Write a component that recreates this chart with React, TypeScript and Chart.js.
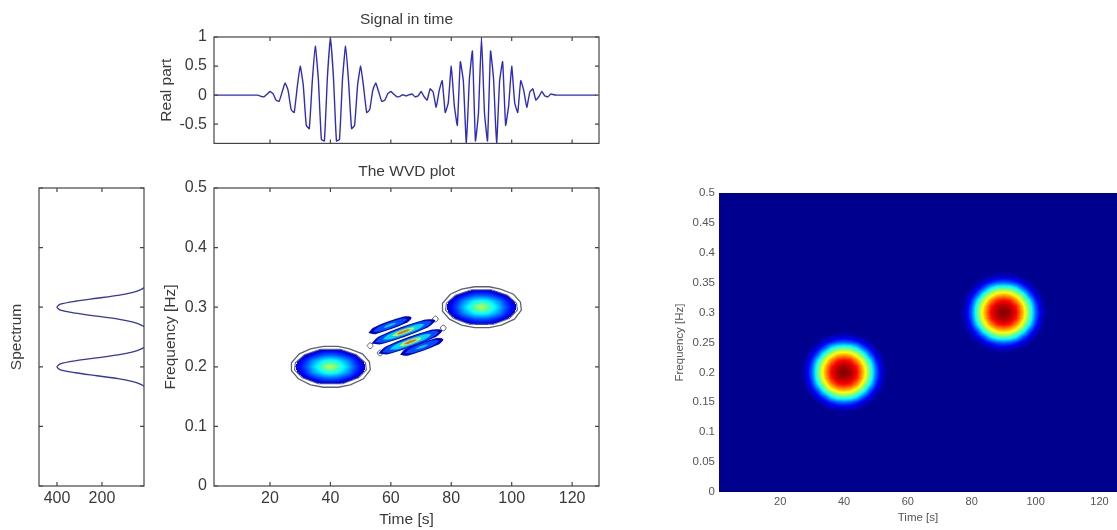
import React, { useEffect, useRef } from "react";
import { Chart, registerables } from "chart.js";

Chart.register(...registerables);

// ---------- values ----------
const signalTimes = [
  1, 2, 3, 4, 5, 6, 7, 8, 9, 10, 11, 12, 13, 14, 15, 16, 17, 18, 19, 20, 21, 22, 23, 24, 25, 26, 27, 28, 29, 30, 31, 32,
  33, 34, 35, 36, 37, 38, 39, 40, 41, 42, 43, 44, 45, 46, 47, 48, 49, 50, 51, 52, 53, 54, 55, 56, 57, 58, 59, 60, 61, 62,
  63, 64, 65, 66, 67, 68, 69, 70, 71, 72, 73, 74, 75, 76, 77, 78, 79, 80, 81, 82, 83, 84, 85, 86, 87, 88, 89, 90, 91, 92,
  93, 94, 95, 96, 97, 98, 99, 100, 101, 102, 103, 104, 105, 106, 107, 108, 109, 110, 111, 112, 113, 114, 115, 116, 117,
  118, 119, 120, 121, 122, 123, 124, 125, 126, 127, 128,
];
const signalReal = [
  0, 0, 0, 0, 0, 0, 0, 0, 0, 0, 0, 0, 0, 0, 0, 0, -0.02, -0.028, 0.015, 0.062, 0.025, -0.085, -0.108, 0.052, 0.21, 0.079,
  -0.25, -0.298, 0.133, 0.499, 0.176, -0.519, -0.576, 0.241, 0.841, 0.277, -0.76, -0.787, 0.307, 1.0, 0.307, -0.787, -0.76,
  0.277, 0.841, 0.241, -0.576, -0.519, 0.176, 0.499, 0.133, -0.298, -0.25, 0.079, 0.21, 0.052, -0.108, -0.085, 0.025,
  0.062, 0.015, -0.028, -0.02, 0.006, -0.013, 0.006, 0.02, -0.028, -0.015, 0.062, -0.025, -0.085, 0.108, 0.052, -0.21,
  0.079, 0.25, -0.298, -0.133, 0.499, -0.176, -0.519, 0.576, 0.241, -0.841, 0.277, 0.76, -0.787, -0.307, 1.0, -0.307,
  -0.787, 0.76, 0.277, -0.841, 0.241, 0.576, -0.519, -0.176, 0.499, -0.133, -0.298, 0.25, 0.079, -0.21, 0.052, 0.108,
  -0.085, -0.025, 0.062, -0.015, -0.028, 0.02, 0.006, 0, 0, 0, 0, 0, 0, 0, 0, 0, 0, 0, 0, 0, 0,
];

const spectrumFreqs = [
  0, 0.155, 0.16, 0.165, 0.17, 0.175, 0.18, 0.185, 0.19, 0.195, 0.2, 0.205, 0.21, 0.215, 0.22, 0.225, 0.23, 0.235, 0.24,
  0.245, 0.25, 0.255, 0.26, 0.265, 0.27, 0.275, 0.28, 0.285, 0.29, 0.295, 0.3, 0.305, 0.31, 0.315, 0.32, 0.325, 0.33, 0.335,
  0.34, 0.345, 0.5,
];
const spectrumValues = [
  0, 0, 1, 5, 25, 62, 128, 223, 319, 385, 400, 385, 319, 223, 128, 62, 25, 5, 1, 0, 0, 0, 1, 5, 25, 62, 128, 223, 319, 385,
  400, 385, 319, 223, 128, 62, 25, 5, 1, 0, 0,
];

const signalYTicks = [-0.5, 0, 0.5, 1];
const timeTicks = [20, 40, 60, 80, 100, 120];
const wvdFreqTicks = [0, 0.1, 0.2, 0.3, 0.4, 0.5];
const spectrumTicks = [200, 400];
const imageFreqTicks = [0, 0.05, 0.1, 0.15, 0.2, 0.25, 0.3, 0.35, 0.4, 0.45, 0.5];

// left WVD: smooth blobs
const blobTimesA = [26, 28, 30, 32, 34, 36, 38, 40, 42, 44, 46, 48, 50, 52, 54];
const blobTimesB = [76, 78, 80, 82, 84, 86, 88, 90, 92, 94, 96, 98, 100, 102, 104];
const wvdFreqsA = [0.16, 0.17, 0.18, 0.19, 0.2, 0.21, 0.22, 0.23, 0.24];
const wvdFreqsB = [0.26, 0.27, 0.28, 0.29, 0.3, 0.31, 0.32, 0.33, 0.34];
const wvdBlob = [
  [0, 0, 0, 0, 0, 0, 0, 0, 0, 0, 0, 0, 0, 0, 0],
  [0, 0, 0, 0.03, 0.05, 0.065, 0.08, 0.08, 0.08, 0.065, 0.05, 0.03, 0, 0, 0],
  [0, 0.03, 0.06, 0.095, 0.13, 0.17, 0.2, 0.21, 0.2, 0.17, 0.13, 0.095, 0.06, 0.03, 0],
  [0.03, 0.065, 0.11, 0.17, 0.26, 0.32, 0.38, 0.4, 0.38, 0.32, 0.26, 0.17, 0.11, 0.065, 0.03],
  [0.03, 0.08, 0.13, 0.21, 0.31, 0.4, 0.5, 0.58, 0.5, 0.4, 0.31, 0.21, 0.13, 0.08, 0.03],
  [0.03, 0.065, 0.11, 0.17, 0.26, 0.32, 0.38, 0.4, 0.38, 0.32, 0.26, 0.17, 0.11, 0.065, 0.03],
  [0, 0.03, 0.06, 0.095, 0.13, 0.17, 0.2, 0.21, 0.2, 0.17, 0.13, 0.095, 0.06, 0.03, 0],
  [0, 0, 0, 0.03, 0.05, 0.065, 0.08, 0.08, 0.08, 0.065, 0.05, 0.03, 0, 0, 0],
  [0, 0, 0, 0, 0, 0, 0, 0, 0, 0, 0, 0, 0, 0, 0],
];

// right image: two round peaks
const imageFreqsA = [0.13, 0.14, 0.15, 0.16, 0.17, 0.18, 0.19, 0.2, 0.21, 0.22, 0.23, 0.24, 0.25, 0.26, 0.27];
const imageFreqsB = [0.23, 0.24, 0.25, 0.26, 0.27, 0.28, 0.29, 0.3, 0.31, 0.32, 0.33, 0.34, 0.35, 0.36, 0.37];
const imageBlob = [
  [0, 0, 0, 0, 0, 0, 0, 0.01, 0, 0, 0, 0, 0, 0, 0],
  [0, 0, 0, 0, 0.02, 0.04, 0.06, 0.07, 0.06, 0.04, 0.02, 0, 0, 0, 0],
  [0, 0, 0.01, 0.03, 0.09, 0.16, 0.21, 0.23, 0.21, 0.16, 0.09, 0.03, 0.01, 0, 0],
  [0, 0, 0.03, 0.12, 0.23, 0.38, 0.47, 0.49, 0.47, 0.38, 0.23, 0.12, 0.03, 0, 0],
  [0, 0.02, 0.09, 0.23, 0.44, 0.58, 0.67, 0.7, 0.67, 0.58, 0.44, 0.23, 0.09, 0.02, 0],
  [0, 0.04, 0.16, 0.38, 0.58, 0.74, 0.85, 0.88, 0.85, 0.74, 0.58, 0.38, 0.16, 0.04, 0],
  [0, 0.06, 0.21, 0.47, 0.67, 0.85, 0.94, 0.97, 0.94, 0.85, 0.67, 0.47, 0.21, 0.06, 0],
  [0.01, 0.07, 0.23, 0.49, 0.7, 0.88, 0.97, 1.0, 0.97, 0.88, 0.7, 0.49, 0.23, 0.07, 0.01],
  [0, 0.06, 0.21, 0.47, 0.67, 0.85, 0.94, 0.97, 0.94, 0.85, 0.67, 0.47, 0.21, 0.06, 0],
  [0, 0.04, 0.16, 0.38, 0.58, 0.74, 0.85, 0.88, 0.85, 0.74, 0.58, 0.38, 0.16, 0.04, 0],
  [0, 0.02, 0.09, 0.23, 0.44, 0.58, 0.67, 0.7, 0.67, 0.58, 0.44, 0.23, 0.09, 0.02, 0],
  [0, 0, 0.03, 0.12, 0.23, 0.38, 0.47, 0.49, 0.47, 0.38, 0.23, 0.12, 0.03, 0, 0],
  [0, 0, 0.01, 0.03, 0.09, 0.16, 0.21, 0.23, 0.21, 0.16, 0.09, 0.03, 0.01, 0, 0],
  [0, 0, 0, 0, 0.02, 0.04, 0.06, 0.07, 0.06, 0.04, 0.02, 0, 0, 0, 0],
  [0, 0, 0, 0, 0, 0, 0, 0.01, 0, 0, 0, 0, 0, 0, 0],
];

// contour outlines round the two auto-terms (time, frequency)
const contourOuterA = [[37.7,0.2343],[42.6,0.2343],[46.3,0.2302],[50.6,0.2218],[52.9,0.2084],[53.2,0.195],[50.9,0.1799],[46.6,0.1698],[42.6,0.1657],[37.7,0.1657],[33.4,0.1698],[29.4,0.1799],[27.1,0.1933],[27.1,0.2067],[29.7,0.2218],[33.4,0.2302],[37.7,0.2343]];
const contourInnerA = [[36.7,0.2293],[43.3,0.2293],[48.6,0.2201],[51.6,0.2067],[51.9,0.195],[49.3,0.1816],[44,0.1715],[36,0.1715],[30.7,0.1816],[28.1,0.195],[28.4,0.2067],[31.4,0.2201],[36.7,0.2293]];
const contourOuterB = [[87.7,0.3343],[92.6,0.3343],[96.3,0.3302],[100.6,0.3218],[102.9,0.3084],[103.2,0.295],[100.9,0.2799],[96.6,0.2698],[92.6,0.2657],[87.7,0.2657],[83.4,0.2698],[79.4,0.2799],[77.1,0.2933],[77.1,0.3067],[79.7,0.3218],[83.4,0.3302],[87.7,0.3343]];
const contourInnerB = [[86.7,0.3293],[93.3,0.3293],[98.6,0.3201],[101.6,0.3067],[101.9,0.295],[99.3,0.2816],[94,0.2715],[86,0.2715],[80.7,0.2816],[78.1,0.295],[78.4,0.3067],[81.4,0.3201],[86.7,0.3293]];

// interference stripes: nested filled contours (time, frequency)
const stripe1Level1 = [[52.55,0.2566],[54.33,0.2661],[64.29,0.2843],[66.85,0.2828],[65.07,0.2733],[55.11,0.2551]];
const stripe1Level2 = [[54.1,0.2594],[56,0.2673],[62.84,0.2799],[65.3,0.28],[63.4,0.2721],[56.56,0.2595]];
const stripe1Level3 = [[57.52,0.2657],[58.5,0.2693],[60.68,0.2733],[61.88,0.2737],[60.9,0.2701],[58.72,0.2661]];
const stripe4Level1 = [[63.05,0.2202],[64.83,0.2297],[74.79,0.2479],[77.35,0.2464],[75.57,0.2369],[65.61,0.2187]];
const stripe4Level2 = [[64.6,0.223],[66.5,0.2309],[73.34,0.2435],[75.8,0.2436],[73.9,0.2357],[67.06,0.2231]];
const stripe4Level3 = [[68.02,0.2293],[69,0.2329],[71.18,0.2369],[72.38,0.2373],[71.4,0.2337],[69.22,0.2297]];
const stripe2Level1 = [[53.53,0.2391],[56.17,0.2514],[71.09,0.2788],[74.67,0.2779],[72.03,0.2656],[57.11,0.2382]];
const stripe2Level2 = [[54.77,0.2414],[57.19,0.2518],[70.25,0.2758],[73.43,0.2756],[71.01,0.2652],[57.95,0.2412]];
const stripe2Level3 = [[57.26,0.246],[59.45,0.2547],[68.15,0.2707],[70.94,0.271],[68.75,0.2623],[60.05,0.2463]];
const stripe2Level4 = [[60.37,0.2517],[62.03,0.2579],[65.77,0.2647],[67.83,0.2653],[66.17,0.2591],[62.43,0.2523]];
const stripe2Level5 = [[61.92,0.2545],[62.89,0.2582],[65.07,0.2622],[66.28,0.2625],[65.31,0.2588],[63.13,0.2548]];
const stripe3Level1 = [[55.83,0.2223],[58.47,0.2346],[73.39,0.262],[76.97,0.2611],[74.33,0.2488],[59.41,0.2214]];
const stripe3Level2 = [[57.07,0.2246],[59.49,0.235],[72.55,0.259],[75.73,0.2588],[73.31,0.2484],[60.25,0.2244]];
const stripe3Level3 = [[59.56,0.2292],[61.75,0.2379],[70.45,0.2539],[73.24,0.2542],[71.05,0.2455],[62.35,0.2295]];
const stripe3Level4 = [[62.67,0.2349],[64.33,0.2411],[68.07,0.2479],[70.13,0.2485],[68.47,0.2423],[64.73,0.2355]];
const stripe3Level5 = [[64.22,0.2377],[65.19,0.2414],[67.37,0.2454],[68.58,0.2457],[67.61,0.242],[65.43,0.238]];
const tipLoops = [
  [[52.1,0.2354],[53.1,0.2404],[54.1,0.2354],[53.1,0.2304]],
  [[55.4,0.2232],[56.4,0.2282],[57.4,0.2232],[56.4,0.2182]],
  [[73.7,0.2802],[74.7,0.2852],[75.7,0.2802],[74.7,0.2752]],
  [[76.3,0.2651],[77.3,0.2701],[78.3,0.2651],[77.3,0.2601]],
];

// ---------- drawing helpers ----------
const INK = "#3a3a3a";
const SOFT_INK = "#555555";
const FRAME = "#454545";
const TRACE = "#2c2cc0";
const CONTOUR = "#5c6272";
const FONT = "'Liberation Sans', Arial, sans-serif";

const clamp = (v: number) => Math.max(0, Math.min(1, v));
const jet = (raw: number) => {
  const v = Math.max(raw, 0.0156);
  return [
    255 * clamp(1.5 - Math.abs(4 * v - 3)),
    255 * clamp(1.5 - Math.abs(4 * v - 2)),
    255 * clamp(1.5 - Math.abs(4 * v - 1)),
  ];
};

type Grid = { times: number[]; freqs: number[]; values: number[][] };

const cellsOf = (g: Grid) =>
  g.values.flatMap((row, j) => row.map((v, i) => ({ x: g.times[i], y: g.freqs[j], v })));

function heatPlugin(grids: Grid[], threshold: number, background: string | null) {
  return {
    id: "heat",
    beforeDatasetsDraw(chart: any) {
      const { ctx, chartArea: a, scales } = chart;
      const { x, y } = scales;
      ctx.save();
      if (background) {
        ctx.fillStyle = background;
        ctx.fillRect(a.left, a.top, a.right - a.left, a.bottom - a.top);
      }
      ctx.beginPath();
      ctx.rect(a.left, a.top, a.right - a.left, a.bottom - a.top);
      ctx.clip();
      for (const g of grids) {
        const x0 = Math.floor(x.getPixelForValue(g.times[0]));
        const x1 = Math.ceil(x.getPixelForValue(g.times[g.times.length - 1]));
        const y0 = Math.floor(y.getPixelForValue(g.freqs[g.freqs.length - 1]));
        const y1 = Math.ceil(y.getPixelForValue(g.freqs[0]));
        const w = x1 - x0;
        const h = y1 - y0;
        const off = document.createElement("canvas");
        off.width = w;
        off.height = h;
        const octx = off.getContext("2d")!;
        const img = octx.createImageData(w, h);
        const dt = g.times[1] - g.times[0];
        const df = g.freqs[1] - g.freqs[0];
        for (let py = 0; py < h; py++) {
          const fv = (y.getValueForPixel(y0 + py + 0.5) - g.freqs[0]) / df;
          for (let px = 0; px < w; px++) {
            const tv = (x.getValueForPixel(x0 + px + 0.5) - g.times[0]) / dt;
            if (tv < 0 || fv < 0 || tv > g.times.length - 1 || fv > g.freqs.length - 1) continue;
            const i = Math.min(Math.floor(tv), g.times.length - 2);
            const j = Math.min(Math.floor(fv), g.freqs.length - 2);
            const u = tv - i;
            const s = fv - j;
            const v =
              g.values[j][i] * (1 - u) * (1 - s) +
              g.values[j][i + 1] * u * (1 - s) +
              g.values[j + 1][i] * (1 - u) * s +
              g.values[j + 1][i + 1] * u * s;
            if (v < threshold) continue;
            const c = jet(v);
            const k = 4 * (py * w + px);
            img.data[k] = c[0];
            img.data[k + 1] = c[1];
            img.data[k + 2] = c[2];
            img.data[k + 3] = 255;
          }
        }
        octx.putImageData(img, 0, 0);
        ctx.drawImage(off, x0, y0);
      }
      ctx.restore();
    },
  };
}

const framePlugin = {
  id: "frame",
  afterDatasetsDraw(chart: any) {
    const { ctx, chartArea: a, scales } = chart;
    const { x, y } = scales;
    ctx.save();
    ctx.strokeStyle = FRAME;
    ctx.lineWidth = 1.2;
    ctx.strokeRect(a.left, a.top, a.right - a.left, a.bottom - a.top);
    ctx.beginPath();
    for (const t of x.ticks) {
      const p = x.getPixelForValue(t.value);
      ctx.moveTo(p, a.bottom);
      ctx.lineTo(p, a.bottom - 4);
      ctx.moveTo(p, a.top);
      ctx.lineTo(p, a.top + 4);
    }
    for (const t of y.ticks) {
      const p = y.getPixelForValue(t.value);
      ctx.moveTo(a.left, p);
      ctx.lineTo(a.left + 4, p);
      ctx.moveTo(a.right, p);
      ctx.lineTo(a.right - 4, p);
    }
    ctx.stroke();
    ctx.restore();
  },
};

const axisOptions = (o: {
  min: number;
  max: number;
  ticks: number[];
  fit: number;
  labels?: boolean;
  size?: number;
  padding?: number;
  title?: string;
  titleSize?: number;
  titlePad?: any;
  reverse?: boolean;
  horizontal: boolean;
  color?: string;
}) => ({
  type: "linear",
  min: o.min,
  max: o.max,
  reverse: !!o.reverse,
  grid: { display: false, drawTicks: false },
  border: { display: false },
  afterBuildTicks: (s: any) => {
    s.ticks = o.ticks.map((value) => ({ value }));
  },
  afterFit: (s: any) => {
    if (o.horizontal) s.height = o.fit;
    else s.width = o.fit;
  },
  ticks: {
    display: o.labels !== false,
    autoSkip: false,
    maxRotation: 0,
    padding: o.padding ?? 6,
    color: o.color ?? INK,
    font: { family: FONT, size: o.size ?? 16 },
    callback: (v: number) => String(v),
  },
  title: o.title
    ? {
        display: true,
        text: o.title,
        color: o.color ?? INK,
        font: { family: FONT, size: o.titleSize ?? 15.5 },
        padding: o.titlePad,
      }
    : { display: false },
});

const titleOptions = (text: string, top: number, bottom: number) => ({
  display: !!text,
  text,
  fullSize: false,
  color: INK,
  font: { family: FONT, size: 15.5, weight: "normal" },
  padding: { top, bottom },
});

const line = (points: number[][], color: string, width: number, fill: string | false, tension = 0.35) => ({
  data: points.map(([x, y]) => ({ x, y })),
  showLine: true,
  borderColor: color,
  borderWidth: width,
  backgroundColor: fill || "transparent",
  fill: fill ? "shape" : false,
  pointRadius: 0,
  tension,
});

const closed = (p: number[][]) => [...p, p[0]];
const zip = (a: number[], b: number[]) => a.map((v, i) => [v, b[i]]);

const PANELS = {
  signal: { left: 140, top: 0, width: 480, height: 160 },
  spectrum: { left: 0, top: 175, width: 160, height: 355 },
  wvd: { left: 140, top: 160, width: 480, height: 370 },
  image: { left: 660, top: 170, width: 457, height: 360 },
};

export default function App() {
  const signalRef = useRef<HTMLCanvasElement>(null);
  const spectrumRef = useRef<HTMLCanvasElement>(null);
  const wvdRef = useRef<HTMLCanvasElement>(null);
  const imageRef = useRef<HTMLCanvasElement>(null);

  useEffect(() => {
    const base = { responsive: false, animation: false, devicePixelRatio: 1, events: [] as string[] };
    const noLegend = { legend: { display: false }, tooltip: { enabled: false } };

    const signal = new Chart(signalRef.current!, {
      type: "scatter",
      data: { datasets: [line(zip(signalTimes, signalReal), TRACE, 1.4, false, 0.12)] as any },
      plugins: [framePlugin],
      options: {
        ...base,
        layout: { padding: { right: 21 } },
        plugins: { ...noLegend, title: titleOptions("Signal in time", 10, 8.4) },
        scales: {
          x: axisOptions({ min: 1.46, max: 128.9, ticks: timeTicks, fit: 15, labels: false, horizontal: true }),
          y: axisOptions({
            min: -0.83, max: 1, ticks: signalYTicks, fit: 74, padding: 7, horizontal: false,
            title: "Real part", titlePad: { top: 17, bottom: 0 },
          }),
        },
      } as any,
    });

    const spectrum = new Chart(spectrumRef.current!, {
      type: "scatter",
      data: { datasets: [line(zip(spectrumValues, spectrumFreqs), "#3434b0", 1.3, false, 0.25)] as any },
      plugins: [framePlugin],
      options: {
        ...base,
        layout: { padding: { top: 13, right: 16 } },
        plugins: noLegend,
        scales: {
          x: axisOptions({ min: 13, max: 480, reverse: true, ticks: spectrumTicks, fit: 44, padding: 3, horizontal: true }),
          y: axisOptions({
            min: 0, max: 0.5, ticks: wvdFreqTicks, fit: 39, labels: false, horizontal: false,
            title: "Spectrum", titlePad: { top: 7, bottom: 0 },
          }),
        },
      } as any,
    });

    const wvdGrids: Grid[] = [
      { times: blobTimesA, freqs: wvdFreqsA, values: wvdBlob },
      { times: blobTimesB, freqs: wvdFreqsB, values: wvdBlob },
    ];
    const navy = "#0000c8";
    const wvdLayers = [
      ...wvdGrids.map((g) => ({ data: cellsOf(g), pointRadius: 0, showLine: false })),
      line(contourOuterA, CONTOUR, 1.3, false, 0),
      line(contourInnerA, CONTOUR, 1.1, false, 0),
      line(contourOuterB, CONTOUR, 1.3, false, 0),
      line(contourInnerB, CONTOUR, 1.1, false, 0),
      ...tipLoops.map((p) => line(closed(p), CONTOUR, 1, "#ffffff")),
      line(closed(stripe1Level1), "transparent", 0, navy),
      line(closed(stripe1Level2), "transparent", 0, "#0050ff"),
      line(closed(stripe1Level3), "transparent", 0, "#20b8ff"),
      line(closed(stripe4Level1), "transparent", 0, navy),
      line(closed(stripe4Level2), "transparent", 0, "#0050ff"),
      line(closed(stripe4Level3), "transparent", 0, "#20b8ff"),
      line(closed(stripe2Level1), "transparent", 0, navy),
      line(closed(stripe2Level2), "transparent", 0, "#0050ff"),
      line(closed(stripe2Level3), "transparent", 0, "#00d8f0"),
      line(closed(stripe2Level4), "transparent", 0, "#c0f050"),
      line(closed(stripe2Level5), "transparent", 0, "#f07010"),
      line(closed(stripe3Level1), "transparent", 0, navy),
      line(closed(stripe3Level2), "transparent", 0, "#0050ff"),
      line(closed(stripe3Level3), "transparent", 0, "#00d8f0"),
      line(closed(stripe3Level4), "transparent", 0, "#c0f050"),
      line(closed(stripe3Level5), "transparent", 0, "#f07010"),
    ];
    const wvd = new Chart(wvdRef.current!, {
      type: "scatter",
      data: { datasets: [...wvdLayers].reverse() as any },
      plugins: [heatPlugin(wvdGrids, 0.09, null), framePlugin],
      options: {
        ...base,
        layout: { padding: { right: 21 } },
        plugins: { ...noLegend, title: titleOptions("The WVD plot", 2, 7.4) },
        scales: {
          x: axisOptions({
            min: 1.46, max: 128.9, ticks: timeTicks, fit: 44, padding: 3, horizontal: true,
            title: "Time [s]", titlePad: { top: 0, bottom: 1 },
          }),
          y: axisOptions({
            min: 0, max: 0.5, ticks: wvdFreqTicks, fit: 74, padding: 7, horizontal: false,
            title: "Frequency [Hz]", titlePad: { top: 21, bottom: 0 },
          }),
        },
      } as any,
    });

    const imageGrids: Grid[] = [
      { times: blobTimesA, freqs: imageFreqsA, values: imageBlob },
      { times: blobTimesB, freqs: imageFreqsB, values: imageBlob },
    ];
    const image = new Chart(imageRef.current!, {
      type: "scatter",
      data: { datasets: imageGrids.map((g) => ({ data: cellsOf(g), pointRadius: 0, showLine: false })) as any },
      plugins: [heatPlugin(imageGrids, -1, "rgb(0,0,143)")],
      options: {
        ...base,
        layout: { padding: { top: 23 } },
        plugins: noLegend,
        scales: {
          x: axisOptions({
            min: 0.85, max: 125.5, ticks: timeTicks, fit: 38, size: 11, padding: 3, horizontal: true, color: SOFT_INK,
            title: "Time [s]", titleSize: 11.5, titlePad: { top: 0, bottom: 5 },
          }),
          y: axisOptions({
            min: 0, max: 0.5, ticks: imageFreqTicks, fit: 59, size: 11.5, padding: 4, horizontal: false, color: SOFT_INK,
            title: "Frequency [Hz]", titleSize: 11.5, titlePad: { top: 13, bottom: 0 },
          }),
        },
      } as any,
    });

    return () => {
      signal.destroy();
      spectrum.destroy();
      wvd.destroy();
      image.destroy();
    };
  }, []);

  const canvas = (ref: any, p: { left: number; top: number; width: number; height: number }) => (
    <canvas
      ref={ref}
      width={p.width}
      height={p.height}
      style={{
        position: "absolute",
        left: p.left,
        top: p.top,
        width: p.width,
        height: p.height,
        filter: "blur(0.45px)",
      }}
    />
  );

  return (
    <div style={{ position: "fixed", left: 0, top: 0, width: 1117, height: 530, overflow: "hidden", background: "#fff" }}>
      {canvas(signalRef, PANELS.signal)}
      {canvas(spectrumRef, PANELS.spectrum)}
      {canvas(wvdRef, PANELS.wvd)}
      {canvas(imageRef, PANELS.image)}
    </div>
  );
}
